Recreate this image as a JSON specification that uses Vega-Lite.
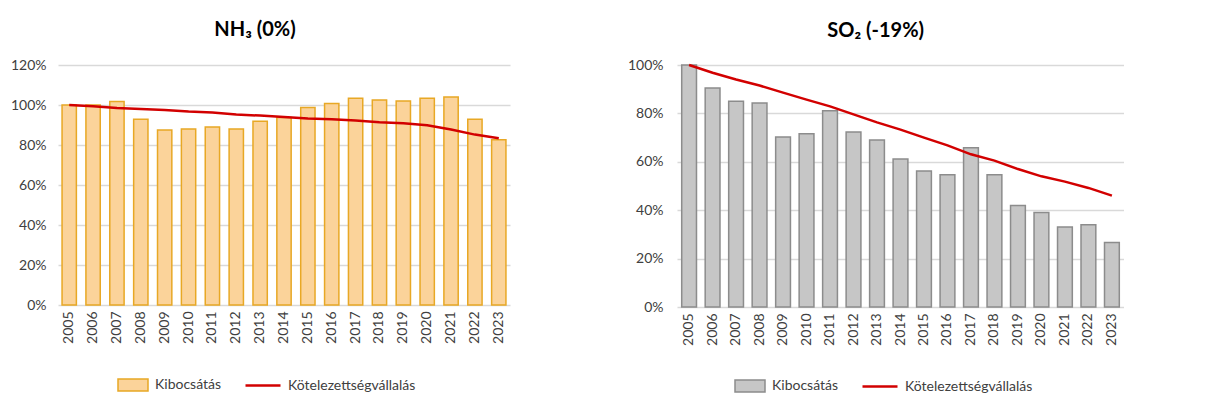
{
  "$schema": "https://vega.github.io/schema/vega-lite/v6.json",
  "padding": {"left": 0, "top": 20, "right": 0, "bottom": 0},
  "spacing": 117,
  "config": {
    "font": "Lato",
    "view": {"stroke": null},
    "axis": {"labelFont": "Lato", "labelFontSize": 14, "labelColor": "#404040", "title": null, "ticks": false, "domain": false, "gridColor": "#D9D9D9", "gridWidth": 1.3, "labelOverlap": false},
    "legend": {"labelFont": "Lato", "labelFontSize": 14, "labelColor": "#404040", "title": null, "orient": "none", "labelOffset": 6, "padding": 0},
    "title": {"font": "Lato", "fontSize": 20, "fontWeight": "bold", "color": "#000000", "anchor": "middle", "frame": "bounds"}
  },
  "datasets": {
    "nh3": [
      {"year": "2005", "e": 1.00, "k": 1.000},
      {"year": "2006", "e": 1.00, "k": 0.994},
      {"year": "2007", "e": 1.017, "k": 0.985},
      {"year": "2008", "e": 0.929, "k": 0.980},
      {"year": "2009", "e": 0.875, "k": 0.975},
      {"year": "2010", "e": 0.880, "k": 0.967},
      {"year": "2011", "e": 0.890, "k": 0.962},
      {"year": "2012", "e": 0.880, "k": 0.952},
      {"year": "2013", "e": 0.919, "k": 0.947},
      {"year": "2014", "e": 0.937, "k": 0.940},
      {"year": "2015", "e": 0.987, "k": 0.932},
      {"year": "2016", "e": 1.007, "k": 0.929},
      {"year": "2017", "e": 1.034, "k": 0.922},
      {"year": "2018", "e": 1.025, "k": 0.914},
      {"year": "2019", "e": 1.020, "k": 0.909},
      {"year": "2020", "e": 1.034, "k": 0.899},
      {"year": "2021", "e": 1.040, "k": 0.877},
      {"year": "2022", "e": 0.929, "k": 0.852},
      {"year": "2023", "e": 0.826, "k": 0.834}
    ],
    "so2": [
      {"year": "2005", "e": 1.00, "k": 1.000},
      {"year": "2006", "e": 0.905, "k": 0.968},
      {"year": "2007", "e": 0.850, "k": 0.940},
      {"year": "2008", "e": 0.843, "k": 0.915},
      {"year": "2009", "e": 0.702, "k": 0.886},
      {"year": "2010", "e": 0.716, "k": 0.857},
      {"year": "2011", "e": 0.811, "k": 0.829},
      {"year": "2012", "e": 0.723, "k": 0.796},
      {"year": "2013", "e": 0.690, "k": 0.763},
      {"year": "2014", "e": 0.612, "k": 0.733},
      {"year": "2015", "e": 0.562, "k": 0.700},
      {"year": "2016", "e": 0.547, "k": 0.668},
      {"year": "2017", "e": 0.658, "k": 0.631},
      {"year": "2018", "e": 0.547, "k": 0.605},
      {"year": "2019", "e": 0.419, "k": 0.570},
      {"year": "2020", "e": 0.391, "k": 0.540},
      {"year": "2021", "e": 0.331, "k": 0.518},
      {"year": "2022", "e": 0.340, "k": 0.492},
      {"year": "2023", "e": 0.267, "k": 0.460}
    ]
  },
  "hconcat": [
    {
      "title": {"text": "NH₃ (0%)", "offset": 18},
      "width": 452,
      "height": 240,
      "data": {"name": "nh3"},
      "encoding": {
        "x": {"field": "year", "type": "ordinal", "scale": {"paddingInner": 0.4, "paddingOuter": 0.17},
              "axis": {"labelAngle": -90, "labelPadding": 6, "grid": false, "labelBaseline": "middle"}}
      },
      "layer": [
        {
          "mark": {"type": "bar", "stroke": "#E8A825", "strokeWidth": 1.5},
          "encoding": {
            "y": {"field": "e", "type": "quantitative", "scale": {"domain": [0, 1.2]},
                  "axis": {"values": [0, 0.2, 0.4, 0.6, 0.8, 1.0, 1.2], "format": ".0%", "labelPadding": 12, "minExtent": 58, "maxExtent": 58, "labelOverlap": false}},
            "fill": {"datum": "Kibocsátás", "type": "nominal", "scale": {"range": ["#FBD39A"]},
                     "legend": {"legendX": 59, "legendY": 304, "symbolType": "M-1,-0.4H1V0.4H-1Z", "symbolSize": 900, "symbolStrokeColor": "#E8A825", "symbolStrokeWidth": 1.5, "symbolOpacity": 1}}
          }
        },
        {
          "mark": {"type": "line", "strokeWidth": 2.5},
          "encoding": {
            "y": {"field": "k", "type": "quantitative", "axis": {"values": [0, 0.2, 0.4, 0.6, 0.8, 1.0, 1.2], "format": ".0%", "labelPadding": 12, "minExtent": 58, "maxExtent": 58, "labelOverlap": false}},
            "stroke": {"datum": "Kötelezettségvállalás", "type": "nominal", "scale": {"range": ["#D20000"]},
                       "legend": {"legendX": 186, "legendY": 301.5, "symbolType": "stroke", "symbolSize": 1225, "symbolStrokeWidth": 2.5}}
          }
        }
      ],
      "resolve": {"scale": {"fill": "independent", "stroke": "independent"}}
    },
    {
      "title": {"text": "SO₂ (-19%)", "offset": 17},
      "width": 447,
      "height": 242,
      "data": {"name": "so2"},
      "encoding": {
        "x": {"field": "year", "type": "ordinal", "scale": {"paddingInner": 0.37, "paddingOuter": 0.2},
              "axis": {"labelAngle": -90, "labelPadding": 6, "grid": false, "labelBaseline": "middle"}}
      },
      "layer": [
        {
          "mark": {"type": "bar", "stroke": "#8C8C8C", "strokeWidth": 1.5},
          "encoding": {
            "y": {"field": "e", "type": "quantitative", "scale": {"domain": [0, 1.0]},
                  "axis": {"values": [0, 0.2, 0.4, 0.6, 0.8, 1.0], "format": ".0%", "labelPadding": 14, "minExtent": 48, "maxExtent": 48}},
            "fill": {"datum": "Kibocsátás", "type": "nominal", "scale": {"range": ["#C6C6C6"]},
                     "legend": {"legendX": 57, "legendY": 305, "symbolType": "M-1,-0.4H1V0.4H-1Z", "symbolSize": 900, "symbolStrokeColor": "#8C8C8C", "symbolStrokeWidth": 1.5, "symbolOpacity": 1}}
          }
        },
        {
          "mark": {"type": "line", "strokeWidth": 2.5},
          "encoding": {
            "y": {"field": "k", "type": "quantitative"},
            "stroke": {"datum": "Kötelezettségvállalás", "type": "nominal", "scale": {"range": ["#D20000"]},
                       "legend": {"legendX": 184, "legendY": 302.5, "symbolType": "stroke", "symbolSize": 1225, "symbolStrokeWidth": 2.5}}
          }
        }
      ],
      "resolve": {"scale": {"fill": "independent", "stroke": "independent"}}
    }
  ],
  "resolve": {"scale": {"fill": "independent", "stroke": "independent", "y": "independent", "x": "independent"}, "legend": {"fill": "independent", "stroke": "independent"}}
}
